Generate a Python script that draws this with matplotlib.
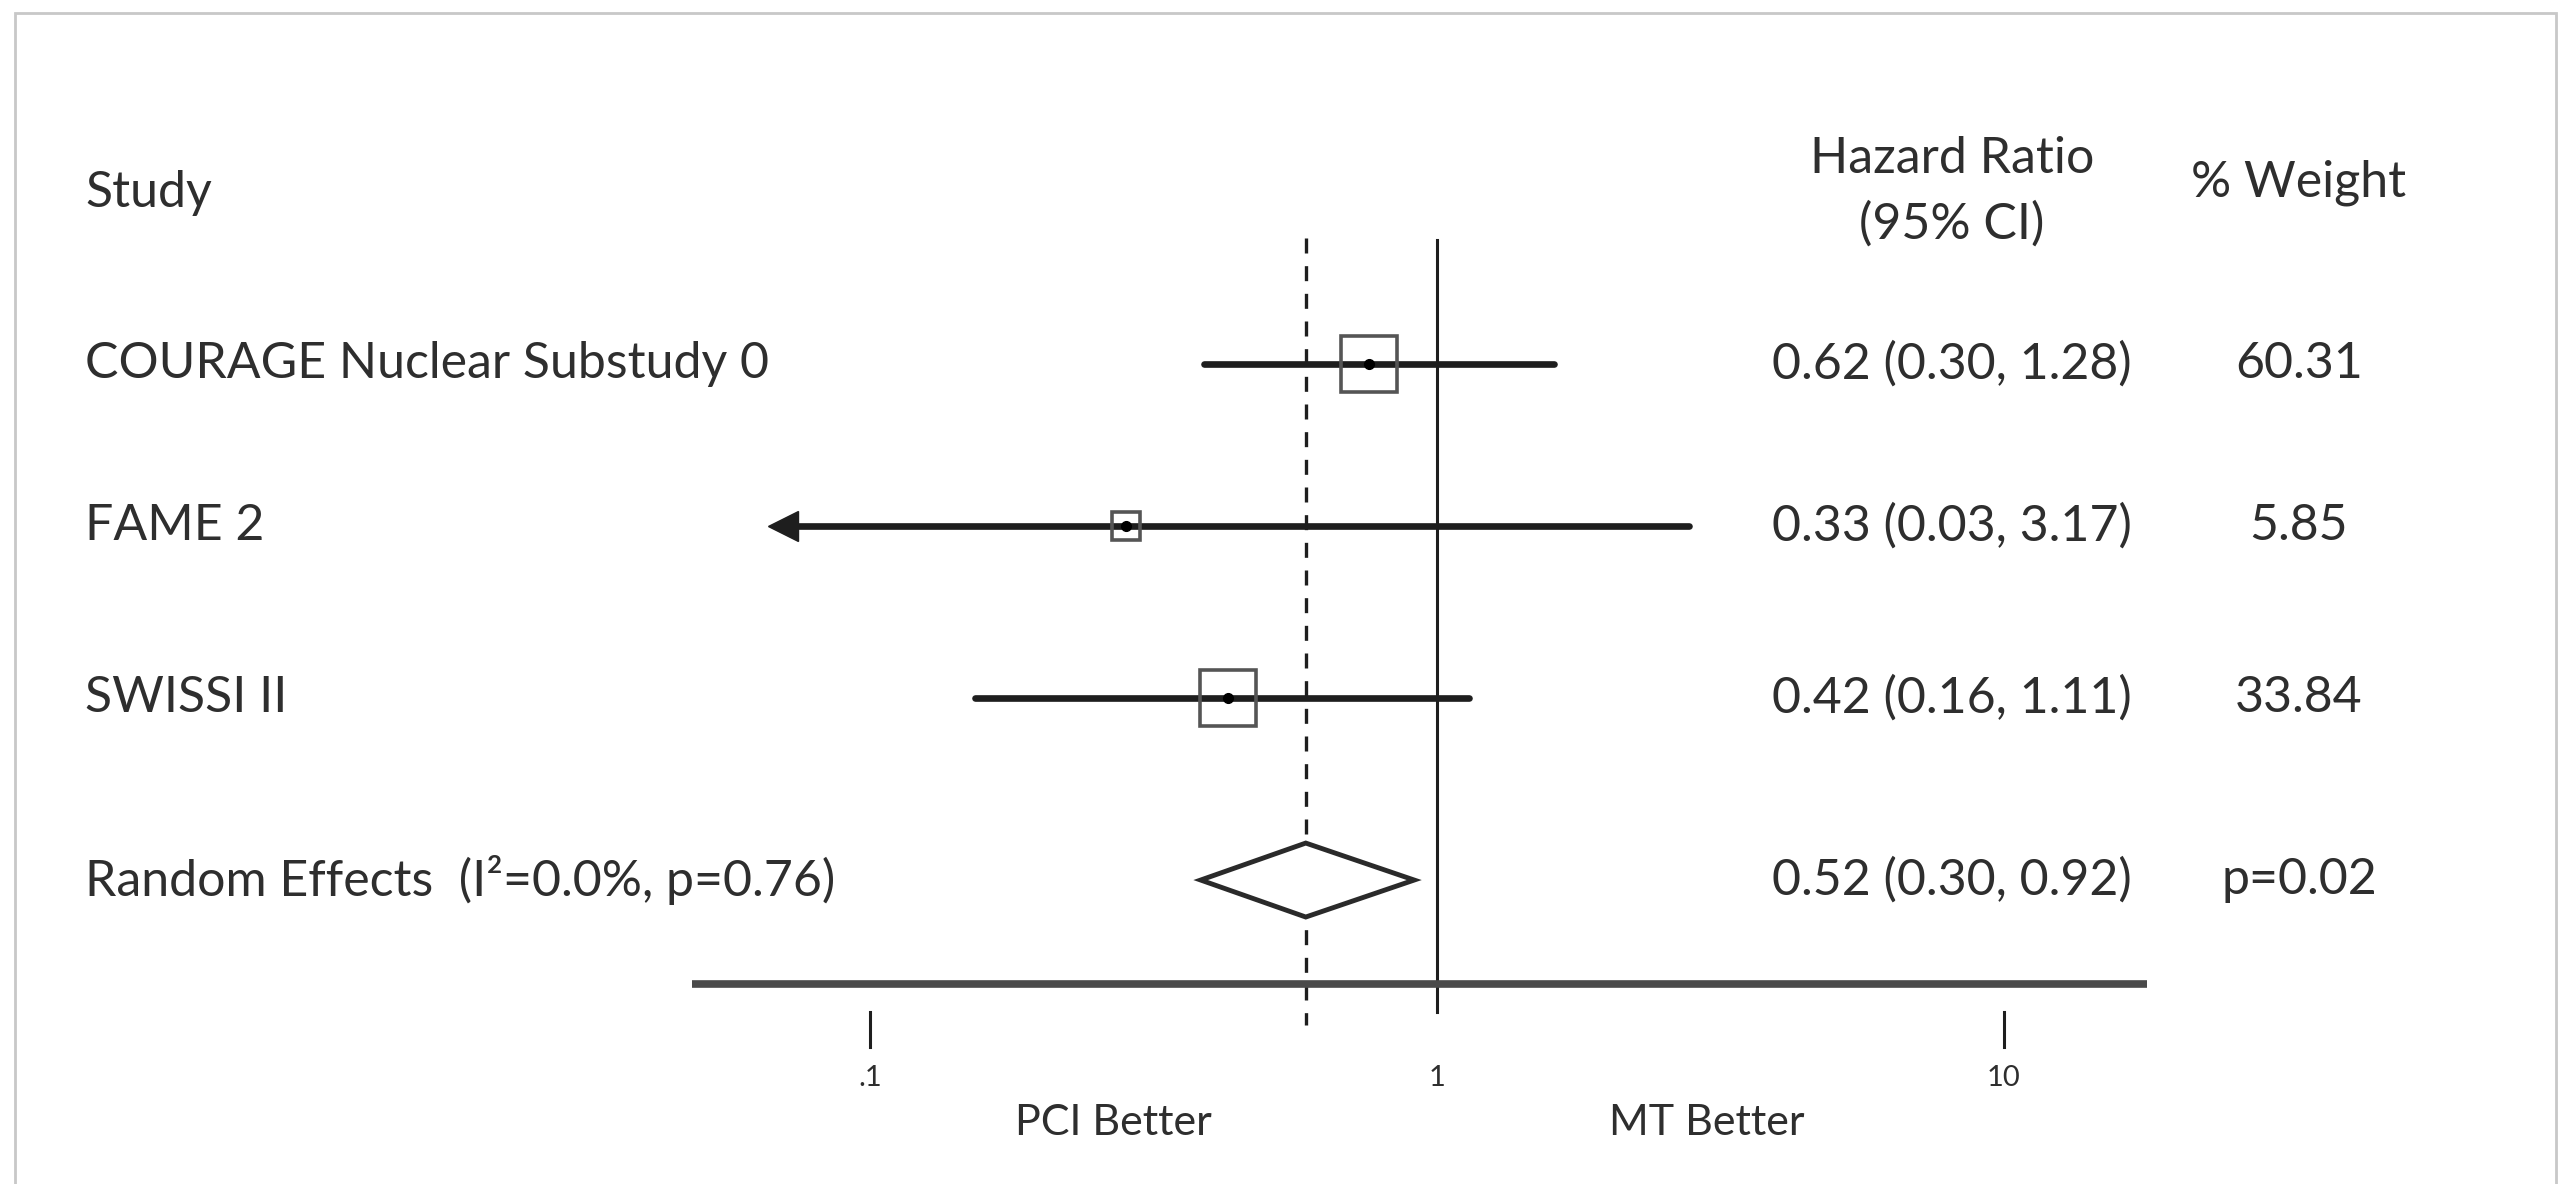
import matplotlib
matplotlib.use("Agg")
import matplotlib.pyplot as plt
import matplotlib.transforms as mtransforms
from matplotlib.patches import Rectangle, Polygon

plt.rcParams['font.family'] = ['Lato', 'DejaVu Sans']

# data
studies = ["COURAGE Nuclear Substudy 0", "FAME 2", "SWISSI II"]
hr_plot = [0.76, 0.283, 0.428]      # drawn box positions
lo_plot = [0.388, 0.0702, 0.153]    # FAME 2 lower limit is clipped (arrow)
hi_plot = [1.61, 2.79, 1.137]
box_size = [40, 20, 40]
hr_text = ["0.62 (0.30, 1.28)", "0.33 (0.03, 3.17)", "0.42 (0.16, 1.11)"]
weight_text = ["60.31", "5.85", "33.84"]

pooled_label = "Random Effects  (I²=0.0%, p=0.76)"
pooled_hr = 0.587
pooled_lo = 0.383
pooled_hi = 0.912
pooled_text = "0.52 (0.30, 0.92)"
pooled_p = "p=0.02"

xticks = [0.1, 1, 10]
xtick_labels = [".1", "1", "10"]

# layout (row units, rows go downwards)
row_y = [0, 0.942, 1.942, 3.0]
axis_y = 3.605

fig = plt.figure(figsize=(25.66, 11.84), dpi=100)
ax = fig.add_axes([692 / 2566, 0, 1455 / 2566, 1])
ax.set_xscale('log')
ax.set_xlim(0.0485, 17.9)
ax.set_ylim(4.767, -2.116)
ax.axis('off')

tc = '#2e2e2e'
lc = '#1e1e1e'
fs = 36

# reference lines
ax.plot([1, 1], [-0.72, 3.77], color=lc, lw=2.2, zorder=2)
ax.plot([pooled_hr, pooled_hr], [-0.73, 3.84], color=lc, lw=2.4,
        dashes=(4.5, 3.8), zorder=2)

# x axis line + ticks
ax.plot([0.0485, 17.9], [axis_y, axis_y], color='#4a4a4a', lw=5.5, solid_capstyle='butt')
for t, lab in zip(xticks, xtick_labels):
    if t != 1:
        ax.plot([t, t], [3.77, 3.97], color=lc, lw=2.2)
    ax.text(t, 4.15, lab, ha='center', va='center', fontsize=21, color=tc)
ax.text(0.269, 4.41, "PCI Better", ha='center', va='center', fontsize=31, color=tc)
ax.text(2.99, 4.41, "MT Better", ha='center', va='center', fontsize=31, color=tc)

# study rows
for i in range(len(studies)):
    y = row_y[i]
    ax.plot([lo_plot[i], hi_plot[i]], [y, y], color=lc, lw=4.8, solid_capstyle='round', zorder=3)
    if lo_plot[i] < 0.1:
        ax.plot(lo_plot[i], y, marker='<', ms=22, color=lc, mec=lc, zorder=4)
    ax.plot(hr_plot[i], y, marker='s', ms=box_size[i], mfc='none', mec='#555555',
            mew=2.6, zorder=4)
    ax.plot(hr_plot[i], y, marker='o', ms=7, color='black', zorder=5)

# pooled diamond
yp = row_y[3]
h = 0.215
diamond = Polygon([[pooled_lo, yp], [pooled_hr, yp - h], [pooled_hi, yp], [pooled_hr, yp + h]],
                  closed=True, facecolor='white', edgecolor='#2a2a2a', lw=3.5, zorder=4)
ax.add_patch(diamond)

# text columns
tr = mtransforms.blended_transform_factory(fig.transFigure, ax.transData)
x_study = 85 / 2566
x_hr = 1952 / 2566
x_w = 2299 / 2566
ax.text(x_study, -0.994, "Study", transform=tr, ha='left', va='center', fontsize=fs, color=tc)
ax.text(x_hr, -1.19, "Hazard Ratio", transform=tr, ha='center', va='center', fontsize=fs, color=tc)
ax.text(x_hr, -0.814, "(95% CI)", transform=tr, ha='center', va='center', fontsize=fs, color=tc)
ax.text(x_w, -1.052, "% Weight", transform=tr, ha='center', va='center', fontsize=fs, color=tc)

for i in range(len(studies)):
    ax.text(x_study, row_y[i], studies[i], transform=tr, ha='left', va='center', fontsize=fs, color=tc)
    ax.text(x_hr, row_y[i], hr_text[i], transform=tr, ha='center', va='center', fontsize=fs, color=tc)
    ax.text(x_w, row_y[i], weight_text[i], transform=tr, ha='center', va='center', fontsize=fs, color=tc)
ax.text(x_study, yp, pooled_label, transform=tr, ha='left', va='center', fontsize=fs, color=tc)
ax.text(x_hr, yp, pooled_text, transform=tr, ha='center', va='center', fontsize=fs, color=tc)
ax.text(x_w, yp, pooled_p, transform=tr, ha='center', va='center', fontsize=fs, color=tc)

# frame around the figure
fig.patches.append(Rectangle((15 / 2566, -0.05), 2541 / 2566, 1.05 - 13 / 1184,
                             transform=fig.transFigure, fill=False,
                             edgecolor='#c8c8c8', lw=2))

fig.savefig("out.png", dpi=100)
